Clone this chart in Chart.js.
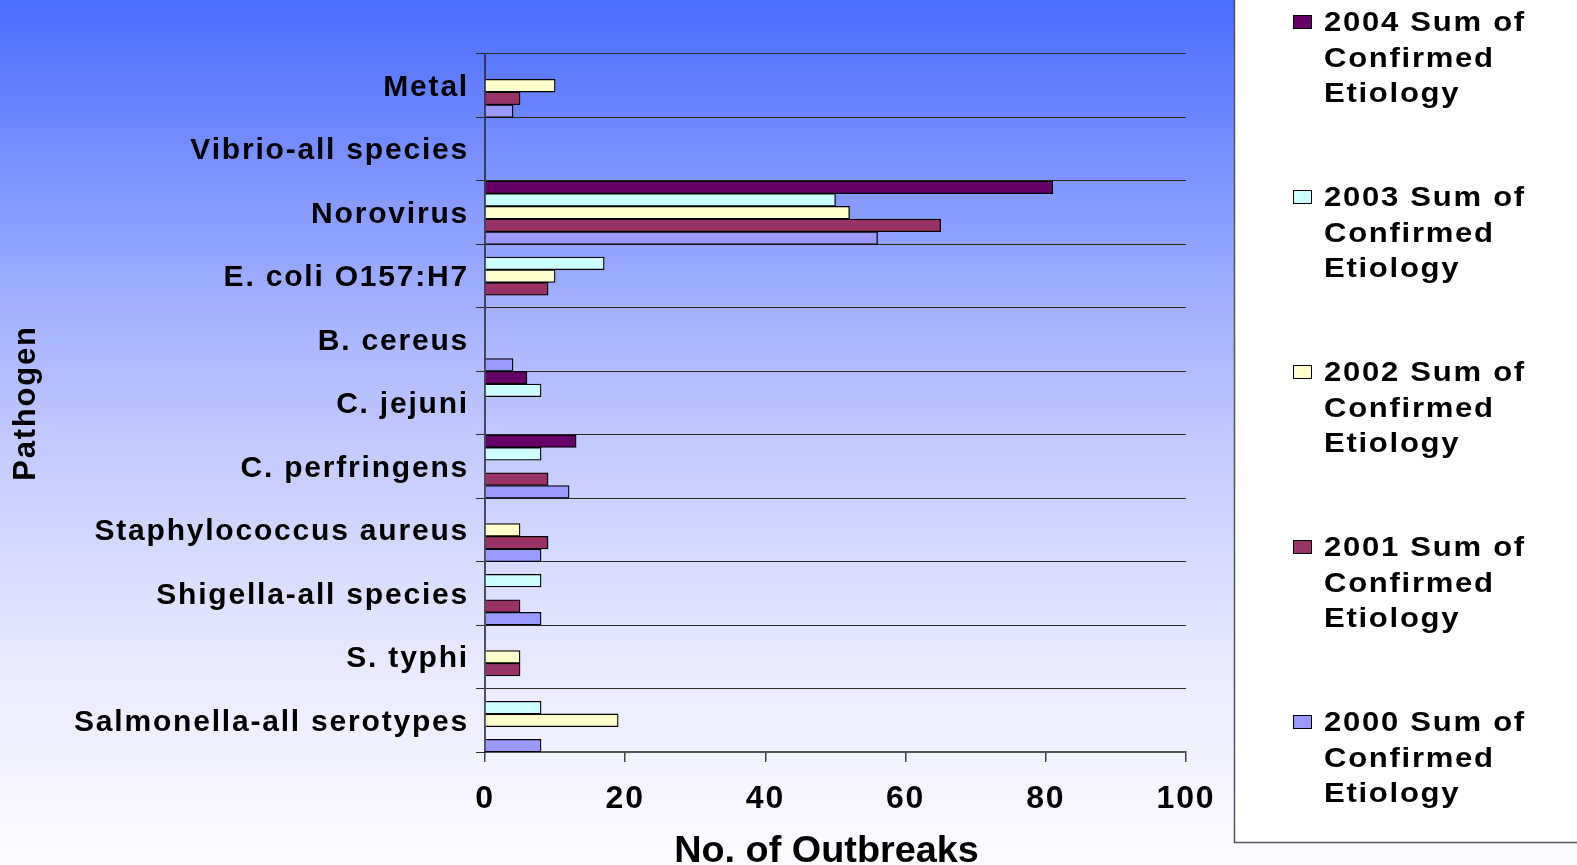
<!DOCTYPE html>
<html>
<head>
<meta charset="utf-8">
<script src="https://cdn.jsdelivr.net/npm/chart.js@4/dist/chart.umd.min.js"></script>
<style>
  html, body { margin: 0; padding: 0; background: #fff; overflow: hidden; }
  #wrap { width: 1577px; height: 865px; position: relative; }
</style>
</head>
<body>
<div id="wrap"><canvas id="chart" width="1577" height="865"></canvas></div>
<script>
// Pathogen categories, listed top to bottom
const pathogens = [
  'Metal',
  'Vibrio-all species',
  'Norovirus',
  'E. coli O157:H7',
  'B. cereus',
  'C. jejuni',
  'C. perfringens',
  'Staphylococcus aureus',
  'Shigella-all species',
  'S. typhi',
  'Salmonella-all serotypes'
];

// Series names (one per year)
const seriesLabels = [
  '2004 Sum of Confirmed Etiology',
  '2003 Sum of Confirmed Etiology',
  '2002 Sum of Confirmed Etiology',
  '2001 Sum of Confirmed Etiology',
  '2000 Sum of Confirmed Etiology'
];

// Number of outbreaks per pathogen (null = no outbreaks reported)
const outbreaks2004 = [null, null, 81, null, null, 6, 13, null, null, null, null];
const outbreaks2003 = [null, null, 50, 17, null, 8, 8, null, 8, null, 8];
const outbreaks2002 = [10, null, 52, 10, null, null, null, 5, null, 5, 19];
const outbreaks2001 = [5, null, 65, 9, null, null, 9, 9, 5, 5, null];
const outbreaks2000 = [4, null, 56, null, 4, null, 12, 8, 8, null, 8];

// Value axis tick labels
const xTicks = [0, 20, 40, 60, 80, 100];

// Axis titles
const valueAxisTitle = 'No. of Outbreaks';
const categoryAxisTitle = 'Pathogen';

const seriesColors = ['#660066', '#CCFFFF', '#FFFFCC', '#993366', '#9999FF'];
const seriesValues = [outbreaks2004, outbreaks2003, outbreaks2002, outbreaks2001, outbreaks2000];

const FONT = '"Liberation Sans", Arial, Helvetica, sans-serif';

function wrapText(ctx, text, maxWidth) {
  const words = text.split(' ');
  const lines = [];
  let cur = '';
  words.forEach(w => {
    const test = cur ? cur + ' ' + w : w;
    if (cur && ctx.measureText(test).width > maxWidth) {
      lines.push(cur);
      cur = w;
    } else {
      cur = test;
    }
  });
  if (cur) lines.push(cur);
  return lines;
}

// Draws text widened horizontally by the factor sx
function drawWideText(ctx, text, x, y, sx) {
  ctx.save();
  ctx.translate(x, y);
  ctx.scale(sx, 1);
  ctx.fillText(text, 0, 0);
  ctx.restore();
}

// Background gradient, text spacing, value-axis title and the boxed legend
const decor = {
  id: 'decor',
  beforeDraw(chart) {
    const ctx = chart.ctx;
    const g = ctx.createLinearGradient(0, 0, 0, chart.height);
    g.addColorStop(0, '#4a6cff');
    g.addColorStop(0.33, '#9eacff');
    g.addColorStop(0.5, '#c0c8ff');
    g.addColorStop(0.75, '#e6e8ff');
    g.addColorStop(1, '#fcfcff');
    ctx.save();
    ctx.fillStyle = g;
    ctx.fillRect(0, 0, chart.width, chart.height);
    ctx.restore();
    ctx.letterSpacing = '1.8px';
  },
  afterDraw(chart) {
    const ctx = chart.ctx;
    const area = chart.chartArea;
    ctx.save();

    // value axis title
    ctx.font = 'bold 36px ' + FONT;
    ctx.letterSpacing = '0px';
    ctx.fillStyle = '#000';
    ctx.textAlign = 'center';
    ctx.textBaseline = 'alphabetic';
    drawWideText(ctx, valueAxisTitle, (area.left + area.right) / 2 - 9, 862, 1.05);

    // legend box
    const boxLeft = 1234, boxBottom = 842;
    ctx.fillStyle = '#ffffff';
    ctx.fillRect(boxLeft, 0, chart.width - boxLeft, boxBottom);
    ctx.strokeStyle = '#555555';
    ctx.lineWidth = 1.5;
    ctx.beginPath();
    ctx.moveTo(boxLeft + 0.5, 0);
    ctx.lineTo(boxLeft + 0.5, boxBottom + 0.5);
    ctx.lineTo(chart.width, boxBottom + 0.5);
    ctx.stroke();

    ctx.font = 'bold 27px ' + FONT;
    ctx.letterSpacing = '1.5px';
    ctx.textBaseline = 'alphabetic';
    ctx.textAlign = 'left';
    chart.data.datasets.forEach((ds, i) => {
      const top = 15 + i * 175;
      ctx.fillStyle = ds.backgroundColor;
      ctx.fillRect(1293, top, 19, 14);
      ctx.strokeStyle = '#000';
      ctx.lineWidth = 1;
      ctx.strokeRect(1293.5, top + 0.5, 18, 13);
      ctx.fillStyle = '#000';
      const lines = wrapText(ctx, ds.label, 195);
      lines.forEach((ln, j) => drawWideText(ctx, ln, 1324, 31 + i * 175 + j * 35.5, 1.15));
    });
    ctx.restore();
    ctx.letterSpacing = '0px';
  }
};

new Chart(document.getElementById('chart'), {
  type: 'bar',
  data: {
    labels: pathogens,
    datasets: seriesLabels.map((label, i) => ({
      label,
      data: seriesValues[i],
      backgroundColor: seriesColors[i],
      borderColor: '#000000',
      borderWidth: 1.3,
      categoryPercentage: 1.0,
      barPercentage: 1.0
    }))
  },
  options: {
    indexAxis: 'y',
    responsive: false,
    animation: false,
    layout: { padding: { top: 54, right: 391, bottom: 0, left: 0 } },
    plugins: {
      legend: { display: false },
      tooltip: { enabled: false }
    },
    scales: {
      x: {
        min: 0,
        max: 100,
        afterBuildTicks(scale) {
          scale.ticks = xTicks.map(v => ({ value: v }));
        },
        afterFit(scale) { scale.height = 113; },
        ticks: {
          color: '#000',
          padding: 18,
          font: { family: FONT, size: 32, weight: 'bold' }
        },
        grid: {
          drawOnChartArea: false,
          drawTicks: true,
          tickLength: 10,
          color: '#444',
          lineWidth: 1.5
        },
        border: { display: true, color: '#555', width: 2 },
        title: { display: false, text: valueAxisTitle }
      },
      y: {
        afterFit(scale) { scale.width = 485; },
        ticks: {
          color: '#000',
          padding: 7,
          labelOffset: 2,
          autoSkip: false,
          font: { family: FONT, size: 30, weight: 'bold' }
        },
        grid: {
          offset: true,
          color: '#2a2a2a',
          lineWidth: 1,
          drawTicks: true,
          tickLength: 9
        },
        border: { display: true, color: 'rgba(40,40,60,0.8)', width: 2 },
        title: {
          display: true,
          text: categoryAxisTitle,
          color: '#000',
          font: { family: FONT, size: 31, weight: 'bold' },
          padding: { top: 8, bottom: 0 }
        }
      }
    }
  },
  plugins: [decor]
});
</script>
</body>
</html>
